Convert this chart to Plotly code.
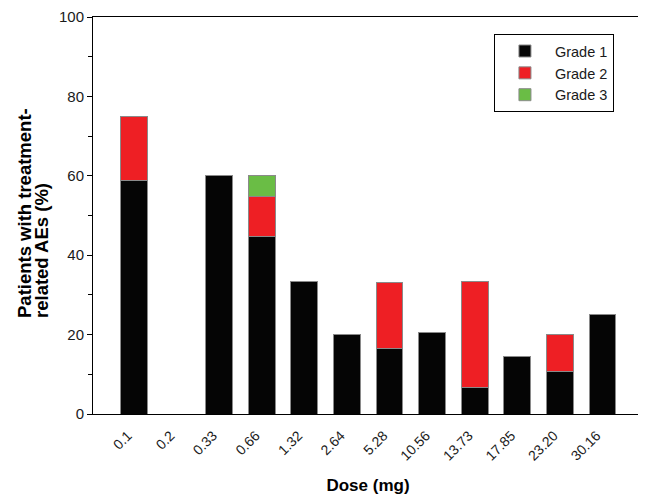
import plotly.graph_objects as go

doses = ["0.1", "0.2", "0.33", "0.66", "1.32", "2.64", "5.28", "10.56", "13.73", "17.85", "23.20", "30.16"]
grade1 = [58.8, 0, 60.0, 44.6, 33.3, 20.0, 16.5, 20.6, 6.7, 14.5, 10.7, 25.0]
grade2 = [16.2, 0, 0, 10.1, 0, 0, 16.7, 0, 26.6, 0, 9.3, 0]
grade3 = [0, 0, 0, 5.3, 0, 0, 0, 0, 0, 0, 0, 0]
ytitle_lines = ["Patients with treatment-", "related AEs (%)"]

series = [
    ("Grade 1", grade1, "#050505"),
    ("Grade 2", grade2, "#ee1f24"),
    ("Grade 3", grade3, "#6abd45"),
]

fig = go.Figure()
for name, vals, color in series:
    fig.add_trace(go.Bar(
        x=doses, y=vals, name=name, width=0.63,
        marker=dict(color=color, line=dict(color="#8a8a8a", width=1)),
    ))

font = "Liberation Sans, Arial, sans-serif"
W, H = 638, 487
L, R, T, B = 85, 3, 9, 81
pw = W - L - R
ph = H - T - B

fig.update_layout(
    barmode="stack",
    width=W, height=H,
    margin=dict(l=L, r=R, t=T, b=B, autoexpand=False),
    plot_bgcolor="white", paper_bgcolor="white",
    font=dict(family=font, size=14, color="#1a1a1a"),
    legend=dict(
        x=0.729, y=0.957, xanchor="left", yanchor="top",
        bordercolor="black", borderwidth=1, bgcolor="white",
        font=dict(size=14.5, color="#1a1a1a"),
        traceorder="normal", tracegroupgap=4, itemwidth=50,
    ),
    xaxis=dict(
        type="category", range=[-0.96, 11.95], automargin=False,
        showline=True, linecolor="black", linewidth=1, mirror=True,
        ticks="", tickangle=-45, tickfont=dict(size=14),
        ticklabelstandoff=7, ticklabelshift=-6,
        title=dict(text="<b>Dose (mg)</b>", font=dict(size=17, color="black"), standoff=26),
    ),
    yaxis=dict(
        range=[0, 100], dtick=20, automargin=False,
        showline=True, linecolor="black", linewidth=1, mirror=True,
        ticks="outside", ticklen=5, tickcolor="black",
        minor=dict(dtick=10, ticks="outside", ticklen=4, tickcolor="black"),
        showgrid=False, zeroline=False, tickfont=dict(size=15),
    ),
)

# two-line y-axis title, start-aligned (bottom) like the reference
for i, line in enumerate(ytitle_lines):
    fig.add_annotation(
        text=f"<b>{line}</b>", textangle=-90,
        xref="paper", yref="paper",
        x=(-69 + 17.5 * i) / pw, y=94 / ph,
        xanchor="center", yanchor="bottom", showarrow=False,
        font=dict(size=18.5, color="black", family=font),
    )

fig.write_html("out.html")
